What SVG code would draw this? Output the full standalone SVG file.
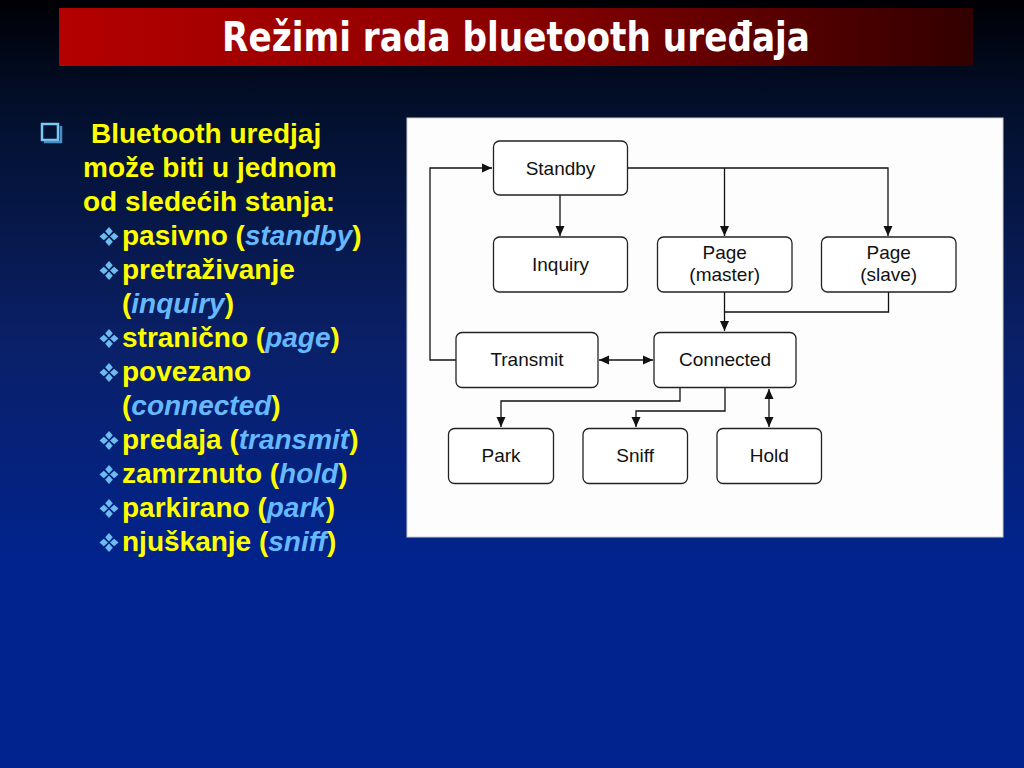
<svg xmlns="http://www.w3.org/2000/svg" xmlns:xlink="http://www.w3.org/1999/xlink" width="1024" height="768" viewBox="0 0 1024 768">
<defs>
  <linearGradient id="bg" x1="0" y1="0" x2="0" y2="1">
    <stop offset="0" stop-color="#000004"/>
    <stop offset="0.15" stop-color="#03102e"/>
    <stop offset="0.45" stop-color="#0a2068"/>
    <stop offset="0.75" stop-color="#00238e"/>
    <stop offset="1" stop-color="#00238f"/>
  </linearGradient>
  <linearGradient id="banner" x1="0" y1="0" x2="1" y2="0">
    <stop offset="0" stop-color="#b40000"/>
    <stop offset="0.5" stop-color="#8a0000"/>
    <stop offset="1" stop-color="#320000"/>
  </linearGradient>
  <marker id="arr" markerWidth="12" markerHeight="12" refX="10" refY="6" orient="auto-start-reverse" markerUnits="userSpaceOnUse">
    <path d="M0,1.5 L10,6 L0,10.5 Z" fill="#111"/>
  </marker>
  <g id="dia">
    <path d="M0,-9.5 L3.8,-5.2 L0,-1 L-3.8,-5.2 Z M0,1 L3.8,5.2 L0,9.5 L-3.8,5.2 Z M-9.5,0 L-5.2,-3.8 L-1,0 L-5.2,3.8 Z M9.5,0 L5.2,-3.8 L1,0 L5.2,3.8 Z" fill="#6cbcf0"/>
  </g>
  <style>
    .node rect { fill:#ffffff; stroke:#222222; stroke-width:1.3; }
    .node text { font-family:"Liberation Sans", Arial, sans-serif; font-size:19px; fill:#111111; text-anchor:middle; }
    .conn path { fill:none; stroke:#111111; stroke-width:1.3; }
    .body { font-family:"Liberation Sans", Arial, sans-serif; font-size:28px; font-weight:bold; fill:#ffff00; }
    .it { font-style:italic; fill:#66b8ff; }
  </style>
</defs>

<rect x="0" y="0" width="1024" height="768" fill="url(#bg)"/>

<g id="title">
  <rect x="59" y="8" width="914" height="58" fill="url(#banner)"/>
  <text x="516" y="51" font-family="'Comic Sans MS', 'DejaVu Sans', sans-serif" font-size="40" font-weight="bold" fill="#ffffff" text-anchor="middle" textLength="588" lengthAdjust="spacingAndGlyphs">Režimi rada bluetooth uređaja</text>
</g>

<g id="bullets-text">
  <rect x="42" y="124" width="16" height="16" fill="none" stroke="#7cc8f4" stroke-width="2.5"/>
  <path d="M44,142 H61 V126" fill="none" stroke="#4a90c8" stroke-width="2.5"/>
  <text class="body" x="91" y="143">Bluetooth uredjaj</text>
  <text class="body" x="83" y="177">može biti u jednom</text>
  <text class="body" x="83" y="211">od sledećih stanja:</text>

  <use xlink:href="#dia" x="109" y="236.5"/>
  <text class="body" x="122" y="245">pasivno (<tspan class="it">standby</tspan>)</text>
  <use xlink:href="#dia" x="109" y="270.5"/>
  <text class="body" x="122" y="279">pretraživanje</text>
  <text class="body" x="122" y="313">(<tspan class="it">inquiry</tspan>)</text>
  <use xlink:href="#dia" x="109" y="338.5"/>
  <text class="body" x="122" y="347">stranično (<tspan class="it">page</tspan>)</text>
  <use xlink:href="#dia" x="109" y="372.5"/>
  <text class="body" x="122" y="381">povezano</text>
  <text class="body" x="122" y="415">(<tspan class="it">connected</tspan>)</text>
  <use xlink:href="#dia" x="109" y="440.5"/>
  <text class="body" x="122" y="449">predaja (<tspan class="it">transmit</tspan>)</text>
  <use xlink:href="#dia" x="109" y="474.5"/>
  <text class="body" x="122" y="483">zamrznuto (<tspan class="it">hold</tspan>)</text>
  <use xlink:href="#dia" x="109" y="508.5"/>
  <text class="body" x="122" y="517">parkirano (<tspan class="it">park</tspan>)</text>
  <use xlink:href="#dia" x="109" y="542.5"/>
  <text class="body" x="122" y="551">njuškanje (<tspan class="it">sniff</tspan>)</text>
</g>

<rect id="panel" x="407" y="118" width="596" height="419" fill="#fdfdfd" stroke="#cccccc" stroke-width="1"/>

<g id="connectors" class="conn">
  <path d="M627,168 H888 V236" marker-end="url(#arr)"/>
  <path d="M724.5,168 V236" marker-end="url(#arr)"/>
  <path d="M560,195 V236" marker-end="url(#arr)"/>
  <path d="M456,360 H430 V168 H492" marker-end="url(#arr)"/>
  <path d="M724.5,292 V331" marker-end="url(#arr)"/>
  <path d="M888.5,292 V312 H724.5"/>
  <path d="M599,360 H653" marker-start="url(#arr)" marker-end="url(#arr)"/>
  <path d="M680,388 V401 H501 V427" marker-end="url(#arr)"/>
  <path d="M725,388 V411 H636 V427" marker-end="url(#arr)"/>
  <path d="M769,389 V427" marker-start="url(#arr)" marker-end="url(#arr)"/>
</g>

<g id="standby" class="node">
  <rect x="493.5" y="141" width="134" height="54" rx="6"/>
  <text x="560.5" y="174.5">Standby</text>
</g>
<g id="inquiry" class="node">
  <rect x="493.5" y="237" width="134" height="55" rx="6"/>
  <text x="560.5" y="270.5">Inquiry</text>
</g>
<g id="page-master" class="node">
  <rect x="657.5" y="237" width="134.5" height="55" rx="6"/>
  <text x="724.7" y="259">Page</text>
  <text x="724.7" y="281">(master)</text>
</g>
<g id="page-slave" class="node">
  <rect x="821.5" y="237" width="134.5" height="55" rx="6"/>
  <text x="888.7" y="259">Page</text>
  <text x="888.7" y="281">(slave)</text>
</g>
<g id="transmit" class="node">
  <rect x="456" y="332.5" width="142" height="55" rx="6"/>
  <text x="527" y="365.5">Transmit</text>
</g>
<g id="connected" class="node">
  <rect x="654" y="332.5" width="142" height="55" rx="6"/>
  <text x="725" y="365.5">Connected</text>
</g>
<g id="park" class="node">
  <rect x="448.5" y="428.5" width="105" height="55" rx="6"/>
  <text x="501" y="462">Park</text>
</g>
<g id="sniff" class="node">
  <rect x="583" y="428.5" width="104.5" height="55" rx="6"/>
  <text x="635.2" y="462">Sniff</text>
</g>
<g id="hold" class="node">
  <rect x="717" y="428.5" width="104.5" height="55" rx="6"/>
  <text x="769.2" y="462">Hold</text>
</g>
</svg>
